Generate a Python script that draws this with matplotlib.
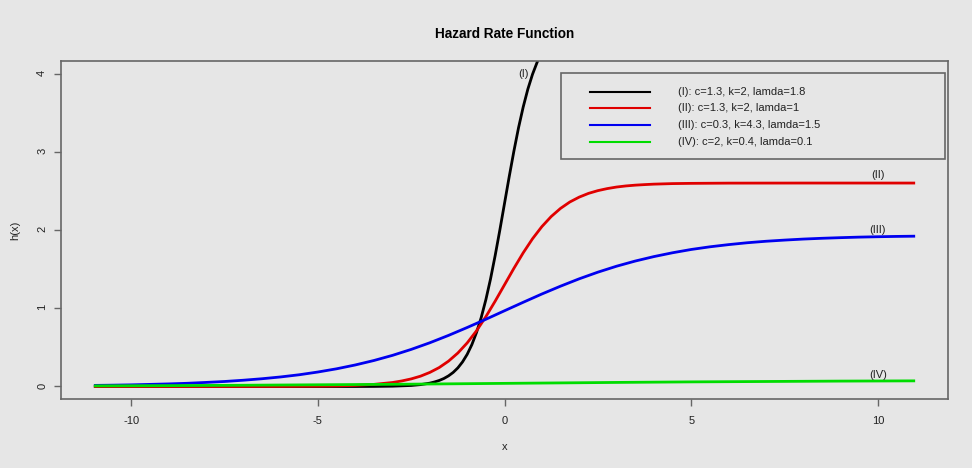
import numpy as np
import matplotlib.pyplot as plt
from matplotlib.patches import Rectangle

plt.rcParams["font.family"] = ["Liberation Sans", "DejaVu Sans"]
plt.rcParams["axes.unicode_minus"] = False

# hazard curves h(x) for the four parameter sets
x_I = [-11, -8, -6, -5, -4, -3.5, -3, -2.5, -2.25, -2, -1.875, -1.75, -1.625, -1.5,
       -1.375, -1.25, -1.125, -1, -0.875, -0.75, -0.625, -0.5, -0.375, -0.25, -0.125,
       0, 0.125, 0.25, 0.375, 0.5, 0.625, 0.75, 0.875, 1, 1.125, 1.25, 1.5, 2, 3, 11]
h_I = [0, 0, 0, 0, 0.000, 0.001, 0.004, 0.013, 0.024, 0.043, 0.058, 0.077, 0.102, 0.136,
       0.180, 0.238, 0.314, 0.411, 0.535, 0.690, 0.880, 1.109, 1.374, 1.675, 2.000,
       2.340, 2.680, 3.005, 3.306, 3.571, 3.800, 3.990, 4.145, 4.269, 4.366, 4.442, 4.544,
       4.637, 4.676, 4.680]

x_II = [-11, -9, -7, -6, -5, -4.5, -4, -3.5, -3, -2.75, -2.5, -2.25, -2, -1.75, -1.5,
        -1.25, -1, -0.75, -0.5, -0.25, 0, 0.25, 0.5, 0.75, 1, 1.25, 1.5, 1.75, 2, 2.25,
        2.5, 2.75, 3, 3.25, 3.5, 3.75, 4, 4.5, 5, 6, 8, 11]
h_II = [0, 0, 0.000, 0.001, 0.004, 0.007, 0.014, 0.027, 0.051, 0.071, 0.097, 0.132,
        0.180, 0.242, 0.324, 0.428, 0.557, 0.712, 0.892, 1.091, 1.300, 1.509, 1.708,
        1.888, 2.043, 2.172, 2.276, 2.358, 2.420, 2.468, 2.503, 2.529, 2.549, 2.563,
        2.573, 2.580, 2.586, 2.593, 2.596, 2.599, 2.600, 2.600]

x_III = [-11, -10.5, -10, -9.5, -9, -8.5, -8, -7.5, -7, -6.5, -6, -5.5, -5, -4.5, -4,
         -3.5, -3, -2.5, -2, -1.5, -1, -0.5, 0, 0.5, 1, 1.5, 2, 2.5, 3, 3.5, 4, 4.5,
         5, 5.5, 6, 6.5, 7, 7.5, 8, 8.5, 9, 9.5, 10, 10.5, 11]
h_III = [0.014, 0.017, 0.021, 0.027, 0.033, 0.041, 0.052, 0.064, 0.080, 0.099, 0.122,
         0.150, 0.185, 0.226, 0.275, 0.332, 0.398, 0.474, 0.559, 0.653, 0.754, 0.859,
         0.968, 1.076, 1.182, 1.282, 1.376, 1.461, 1.537, 1.603, 1.660, 1.709, 1.751,
         1.785, 1.813, 1.837, 1.856, 1.871, 1.884, 1.894, 1.902, 1.909, 1.914, 1.918, 1.921]

x_IV = [-11, -9, -7, -5, -3, -1, 1, 3, 5, 7, 9, 11]
h_IV = [0.008, 0.011, 0.016, 0.022, 0.028, 0.036, 0.044, 0.052, 0.059, 0.064, 0.069, 0.072]

series_x = [x_I, x_II, x_III, x_IV]
series_h = [h_I, h_II, h_III, h_IV]
labels = ["(I): c=1.3, k=2, lamda=1.8",
          "(II): c=1.3, k=2, lamda=1",
          "(III): c=0.3, k=4.3, lamda=1.5",
          "(IV): c=2, k=0.4, lamda=0.1"]
tags = ["(I)", "(II)", "(III)", "(IV)"]
tag_pos = [(0.5, 4.0), (10, 2.7), (10, 2.0), (10, 0.15)]
colors = ["#000000", "#e00000", "#0000f0", "#00dd00"]

bg = "#e6e6e6"
frame = "#666666"

fig = plt.figure(figsize=(9.72, 4.68), dpi=100, facecolor=bg)
ax = fig.add_axes([0.0628, 0.1474, 0.9125, 0.7223], facecolor=bg)

for xs, hs, col in zip(series_x, series_h, colors):
    ax.plot(xs, hs, color=col, lw=2.0, solid_capstyle="butt")

for tag, (tx, ty) in zip(tags, tag_pos):
    ax.text(tx, ty, tag, fontsize=8, color="#222222", ha="center", va="center")

ax.set_xlim(-11.88, 11.88)
ax.set_ylim(-0.16, 4.16)
ax.set_xticks([-10, -5, 0, 5, 10])
ax.set_yticks([0, 1, 2, 3, 4])
ax.tick_params(length=5, width=1, color=frame, labelsize=8, labelcolor="#222222")
ax.tick_params(axis="x", pad=7)
ax.tick_params(axis="y", pad=5, labelrotation=90)
for s in ax.spines.values():
    s.set_color(frame)
    s.set_linewidth(1.2)

ax.set_title("Hazard Rate Function", fontsize=9.8, fontweight="bold", y=1.08, pad=0, va="center")
ax.set_xlabel("x", fontsize=8, va="center", color="#222222")
ax.xaxis.set_label_coords(0.5, -0.142)
ax.set_ylabel("h(x)", fontsize=8, va="center", color="#222222")
ax.yaxis.set_label_coords(-0.052, 0.5)

# legend box drawn by hand, in axes fractions
ax.add_patch(Rectangle((0.5637, 0.7101), 0.4329, 0.2544, transform=ax.transAxes,
                       facecolor="none", edgecolor=frame, lw=1.2))
rows_y = [0.9083, 0.8609, 0.8107, 0.7604]
for lab, col, ry in zip(labels, colors, rows_y):
    ax.plot([0.5964, 0.6640], [ry, ry], color=col, lw=1.5, transform=ax.transAxes)
    ax.text(0.6956, ry, lab, fontsize=8, color="#222222", va="center", transform=ax.transAxes)

fig.savefig("out.png", dpi=100, facecolor=bg)
